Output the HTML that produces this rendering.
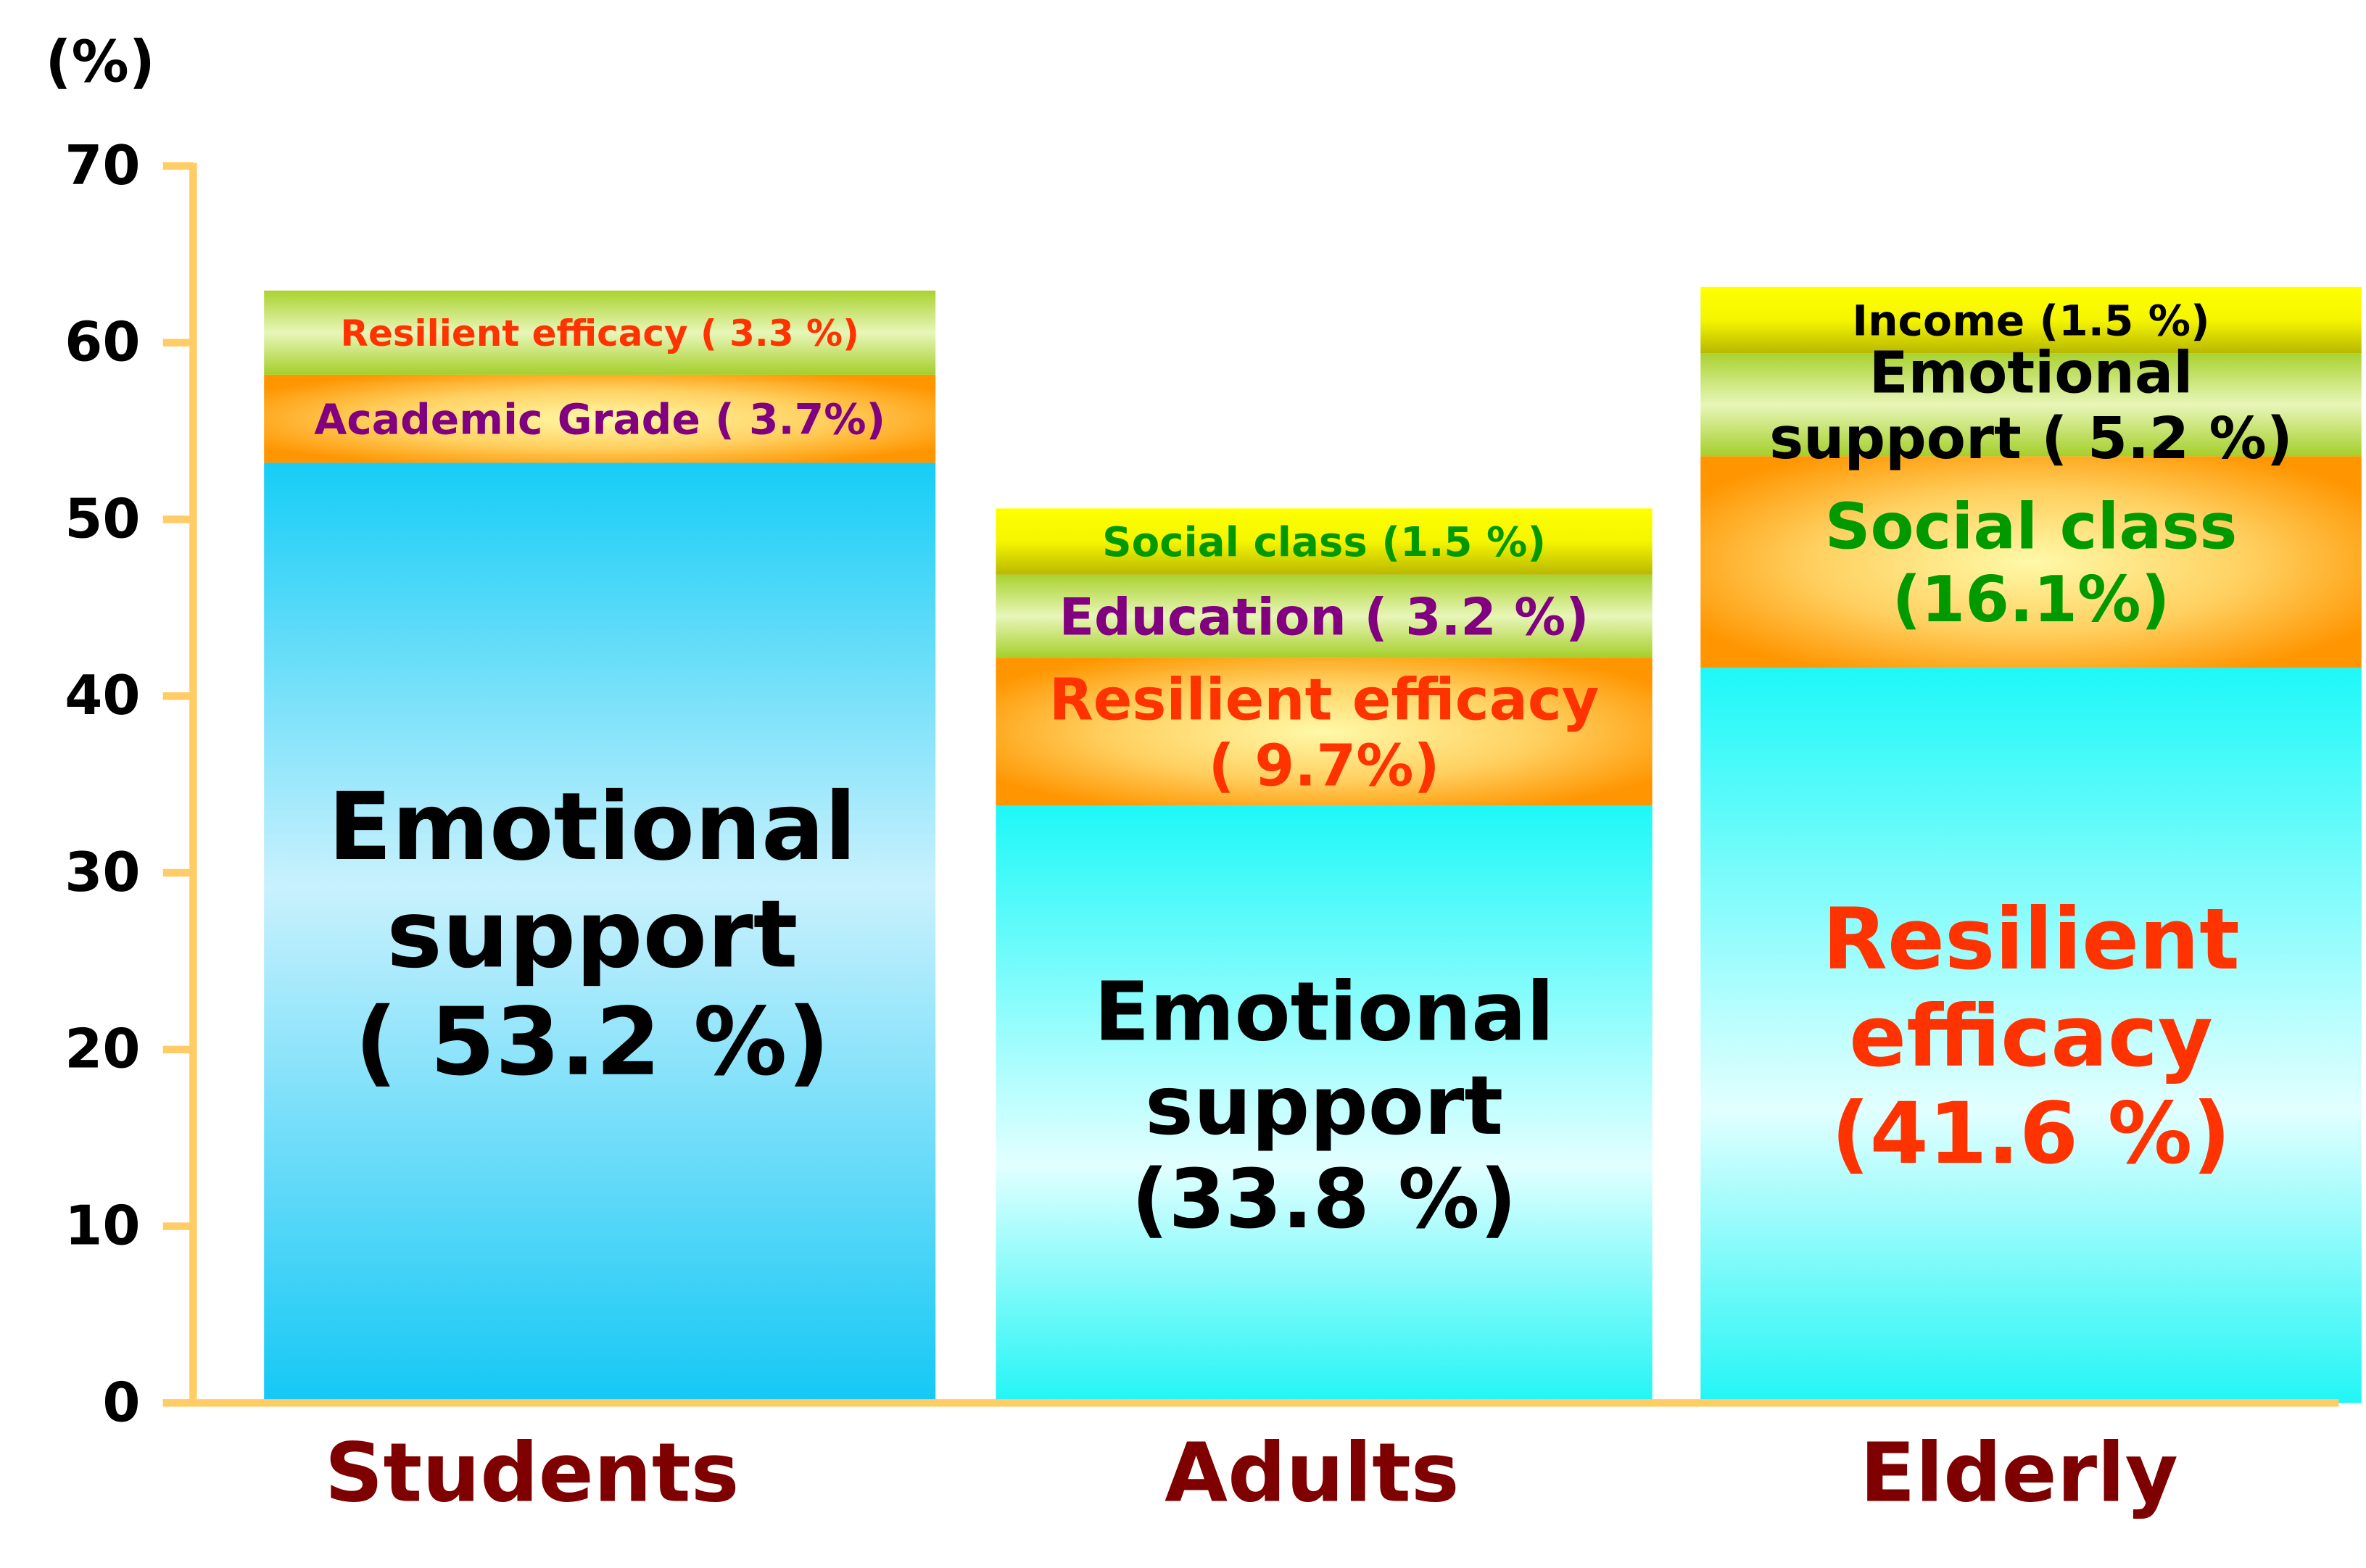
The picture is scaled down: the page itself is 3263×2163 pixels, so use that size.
<!DOCTYPE html>
<html><head><meta charset="utf-8"><style>
html,body{margin:0;padding:0;background:#fff}
svg{display:block}
text{font-family:"DejaVu Sans","Liberation Sans",sans-serif;font-weight:bold}
</style></head><body>
<svg id="chart" width="3263" height="2163" viewBox="0 0 1568 1039.4" xmlns="http://www.w3.org/2000/svg">
<defs>
<linearGradient id="gBlue" x1="0" y1="0" x2="0" y2="1"><stop offset="0" stop-color="#16cdf6"/><stop offset="0.45" stop-color="#c9f1fd"/><stop offset="1" stop-color="#14c8f5"/></linearGradient>
<linearGradient id="gCyan" x1="0" y1="0" x2="0" y2="1"><stop offset="0" stop-color="#1ef8f8"/><stop offset="0.6" stop-color="#e2ffff"/><stop offset="1" stop-color="#22f5f5"/></linearGradient>
<radialGradient id="gOrange" cx="0.5" cy="0.5" r="0.6"><stop offset="0" stop-color="#fff9a8"/><stop offset="0.55" stop-color="#ffd060"/><stop offset="1" stop-color="#ff9500"/></radialGradient>
<linearGradient id="gGreen" x1="0" y1="0" x2="0" y2="1"><stop offset="0" stop-color="#a9d22f"/><stop offset="0.5" stop-color="#e8f6b8"/><stop offset="1" stop-color="#a5cf2a"/></linearGradient>
<linearGradient id="gYellow" x1="0" y1="0" x2="0" y2="1"><stop offset="0" stop-color="#ffff00"/><stop offset="0.5" stop-color="#f5f500"/><stop offset="1" stop-color="#b8b800"/></linearGradient>
</defs>
<g id="bars"></g>
<g id="axes"></g>
<g id="labels"></g>
</svg>
<script>
const categories = ["Students","Adults","Elderly"];
const seg0 = [53.2, 33.8, 41.6];
const seg1 = [3.7, 9.7, 16.1];
const seg2 = [3.3, 3.2, 5.2];
const seg3 = [0, 1.5, 1.5];
const yTicks = [0,10,20,30,40,50,60,70];

const NS="http://www.w3.org/2000/svg";
const y0=930, y70=110;
function y(v){return y0-(v/70)*(y0-y70);}
// upper (label) segments are drawn enlarged, as in the original slide
function segH(v){return v>0 ? 34+6.6*v : 0;}
const barX=[175,660,1127], barW=[445,435,438];
const catOffset=[-45,-8,-8];
function el(tag,attrs,parent,txt){const e=document.createElementNS(NS,tag);for(const k in attrs)e.setAttribute(k,attrs[k]);if(txt!==undefined)e.textContent=txt;parent.appendChild(e);return e;}
const bars=document.getElementById('bars'),axes=document.getElementById('axes'),labels=document.getElementById('labels');
const fills=["url(#gBlue)","url(#gCyan)","url(#gCyan)"];
const upperFills=["url(#gOrange)","url(#gGreen)","url(#gYellow)"];
const segs=[seg0,seg1,seg2,seg3];
const segNames=["emotional-support","second-factor","third-factor","fourth-factor"];
const bounds=[];
for(let i=0;i<categories.length;i++){
  bounds.push([]);
  let top=y(seg0[i]);
  bounds[i].push([top,y0]);
  const r=el('rect',{x:barX[i],y:top,width:barW[i],height:y0-top,fill:fills[i]},bars);
  
  
  for(let s=1;s<4;s++){
    const h=segH(segs[s][i]);
    bounds[i].push([top-h,top]);
    if(h>0){
      const rr=el('rect',{x:barX[i],y:top-h,width:barW[i],height:h,fill:upperFills[s-1]},bars);
      
      
    }
    top-=h;
  }
}
const ya=el('line',{x1:128,y1:108,x2:128,y2:932,stroke:"#ffcc66","stroke-width":5},axes);

const xa=el('line',{x1:108,y1:930,x2:1550,y2:930,stroke:"#ffcc66","stroke-width":5},axes);

yTicks.forEach(t=>{
  const tl=el('line',{x1:108,y1:y(t),x2:128,y2:y(t),stroke:"#ffcc66","stroke-width":5},axes);
  
  const tx=el('text',{x:93,y:y(t)+12,"text-anchor":"end","font-size":36,fill:"#000"},axes,String(t));
  
});
const yt=el('text',{x:30,y:54,"font-size":38,fill:"#000"},axes,"(%)");

categories.forEach((c,i)=>{
  const t=el('text',{x:barX[i]+barW[i]/2+catOffset[i],y:995,"text-anchor":"middle","font-size":54,fill:"#7f0000"},axes,c);
  
});
const segLabels=[
 [0,0,["Emotional","support","( 53.2 %)"],62,"#000",-5],
 [0,1,["Academic Grade ( 3.7%)"],28,"#800080",0],
 [0,2,["Resilient efficacy ( 3.3 %)"],24,"#ff3300",0],
 [1,0,["Emotional","support","(33.8 %)"],54,"#000",0],
 [1,1,["Resilient efficacy","( 9.7%)"],38,"#ff3300",0],
 [1,2,["Education ( 3.2 %)"],34,"#800080",0],
 [1,3,["Social class (1.5 %)"],27,"#009900",0],
 [2,0,["Resilient","efficacy","(41.6 %)"],56,"#ff3300",0],
 [2,1,["Social class","(16.1%)"],42,"#009900",0],
 [2,2,["Emotional","support ( 5.2 %)"],38,"#000",0],
 [2,3,["Income (1.5 %)"],28,"#000",0]
];
segLabels.forEach(([i,s,lines,fs,col,dx])=>{
  const [top,bot]=bounds[i][s];
  const cy=(top+bot)/2, lh=fs*1.15, cx=barX[i]+barW[i]/2+dx;
  lines.forEach((ln,k)=>{
    const t=el('text',{x:cx,y:cy-(lines.length-1)*lh/2+k*lh+fs*0.36,"text-anchor":"middle","font-size":fs,fill:col},labels,ln);
    
  });
});
</script>
</body></html>
